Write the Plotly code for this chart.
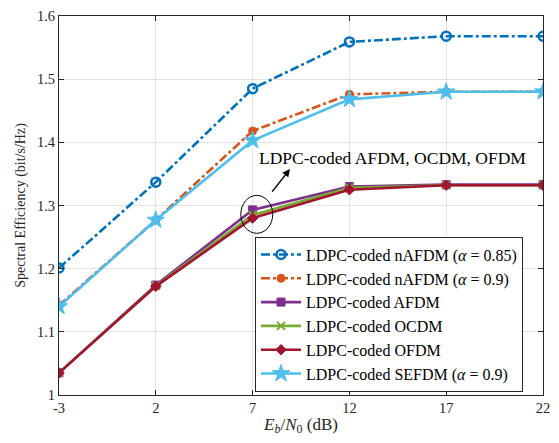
import plotly.graph_objects as go

snr = [-3, 2, 7, 12, 17, 22]
x_ticks = [-3, 2, 7, 12, 17, 22]
y_ticks = [1.0, 1.1, 1.2, 1.3, 1.4, 1.5, 1.6]
y_tick_labels = ["1", "1.1", "1.2", "1.3", "1.4", "1.5", "1.6"]

nafdm_085 = [1.201, 1.337, 1.485, 1.559, 1.568, 1.568]
nafdm_09 = [1.142, 1.277, 1.418, 1.476, 1.480, 1.480]
afdm = [1.035, 1.174, 1.293, 1.330, 1.333, 1.333]
ocdm = [1.035, 1.173, 1.285, 1.328, 1.332, 1.332]
ofdm = [1.035, 1.172, 1.280, 1.325, 1.332, 1.332]
sefdm = [1.140, 1.277, 1.403, 1.468, 1.480, 1.480]

names = [
    "LDPC-coded nAFDM (<i>α</i> = 0.85)",
    "LDPC-coded nAFDM (<i>α</i> = 0.9)",
    "LDPC-coded AFDM",
    "LDPC-coded OCDM",
    "LDPC-coded OFDM",
    "LDPC-coded SEFDM (<i>α</i> = 0.9)",
]

series = [nafdm_085, nafdm_09, afdm, ocdm, ofdm, sefdm]
colors = ["#0072BD", "#D95319", "#7E2F8E", "#77AC30", "#A2142F", "#4DBEEE"]
dashes = ["dashdot", "dashdot", "solid", "solid", "solid", "solid"]
symbols = ["circle-open", "circle", "square", "x-thin-open", "diamond", "star"]
sizes = [9, 8, 8, 8, 8, 13]

SERIF = "Liberation Serif, Times New Roman, Times, serif"

fig = go.Figure()
for y, n, c, d, s, sz in zip(series, names, colors, dashes, symbols, sizes):
    marker = dict(symbol=s, size=sz, color=c, line=dict(color=c, width=2.5 if s == "circle-open" else 1))
    if s == "x-thin-open":
        marker["line"]["width"] = 2
    fig.add_trace(go.Scatter(x=snr, y=y, name=n, mode="lines+markers",
                             line=dict(color=c, width=2.6, dash=d), marker=marker))

fig.add_shape(type="circle", xref="x", yref="y", x0=6.39, x1=8.04, y0=1.256, y1=1.316,
              line=dict(color="black", width=1))

fig.add_annotation(x=8.93, y=1.3576, ax=7.95, ay=1.3196, xref="x", yref="y", axref="x", ayref="y",
                   showarrow=True, arrowhead=2, arrowsize=1, arrowwidth=1.5, arrowcolor="black", text="")
fig.add_annotation(x=14.25, y=1.375, xref="x", yref="y", text="LDPC-coded AFDM, OCDM, OFDM",
                   showarrow=False, font=dict(family=SERIF, size=17.5, color="black"))

axis_common = dict(showline=True, linecolor="#262626", linewidth=1, mirror="ticks", ticks="inside",
                   ticklen=5, tickcolor="#262626", showgrid=True, gridcolor="#e3e3e3", gridwidth=1,
                   zeroline=False, tickfont=dict(family=SERIF, size=14.5, color="#262626"))

fig.update_xaxes(range=[-3, 22], tickvals=x_ticks, ticktext=[str(v) for v in x_ticks],
                 title=dict(text="<i>E</i><sub><i>b</i></sub>/<i>N</i><sub>0</sub> (dB)",
                            font=dict(family=SERIF, size=17, color="#262626"), standoff=2),
                 automargin=False, **axis_common)
fig.update_yaxes(range=[1.0, 1.6], tickvals=y_ticks, ticktext=y_tick_labels,
                 title=dict(text="Spectral Efficiency (bit/s/Hz)",
                            font=dict(family=SERIF, size=14, color="#262626"), standoff=8),
                 automargin=False, **axis_common)

fig.update_layout(
    width=559, height=443,
    margin=dict(l=59, r=16, t=16, b=48, autoexpand=False),
    paper_bgcolor="white", plot_bgcolor="white",
    showlegend=True,
    font=dict(family=SERIF),
    legend=dict(x=0.9587, y=0.418, xanchor="right", yanchor="top",
                bgcolor="white", bordercolor="#262626", borderwidth=1,
                font=dict(family=SERIF, size=16, color="black"),
                tracegroupgap=0, itemwidth=40),
)

fig.write_html("out.html", config={"displayModeBar": False},
               post_script="document.body.style.margin='0';document.body.style.overflow='hidden';")
